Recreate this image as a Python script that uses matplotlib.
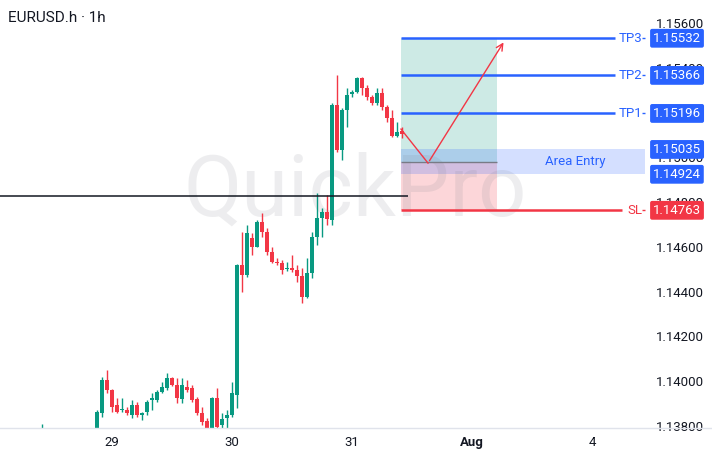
import matplotlib
matplotlib.use("Agg")
import matplotlib.pyplot as plt
import matplotlib.transforms as mtransforms
from matplotlib.lines import Line2D

plt.rcParams["font.family"] = ["Roboto", "DejaVu Sans"]

C_UP = "#089981"
C_DOWN = "#F23645"
C_BLUE = "#2962FF"
C_TEXT = "#131722"

# hourly bars, hour 0 = 29 Jul 00:00 (weekend gap skipped on the axis)
hours = [-14] + list(range(-3, 59))
opens = [1.13772,
         1.13758, 1.13857, 1.14004, 1.13960, 1.13892, 1.13870, 1.13870, 1.13848, 1.13892, 1.13848,
         1.13861, 1.13915, 1.13915, 1.13951, 1.13968, 1.14013, 1.13982, 1.13919, 1.13973, 1.13968,
         1.13919, 1.13857, 1.13821, 1.13790, 1.13924, 1.13803, 1.13834, 1.13848, 1.13937, 1.14518,
         1.14474, 1.14639, 1.14599, 1.14710, 1.14666, 1.14576, 1.14532, 1.14527, 1.14500, 1.14505,
         1.14496, 1.14469, 1.14375, 1.14483, 1.14643, 1.14728, 1.14755, 1.14719, 1.15233, 1.15032,
         1.15211, 1.15283, 1.15292, 1.15354, 1.15309, 1.15269, 1.15242, 1.15287, 1.15225, 1.15175,
         1.15095, 1.15117]
highs = [1.13808,
         1.13870, 1.14018, 1.14049, 1.13964, 1.13924, 1.13924, 1.13884, 1.13915, 1.13906, 1.13861,
         1.13915, 1.13946, 1.13960, 1.13995, 1.14036, 1.14018, 1.14013, 1.14013, 1.14004, 1.13982,
         1.13928, 1.13884, 1.13834, 1.13928, 1.13968, 1.13857, 1.13870, 1.13995, 1.14522, 1.14666,
         1.14697, 1.14661, 1.14719, 1.14751, 1.14684, 1.14599, 1.14550, 1.14541, 1.14532, 1.14563,
         1.14518, 1.14505, 1.14550, 1.14666, 1.14840, 1.14773, 1.14831, 1.15242, 1.15368, 1.15220,
         1.15309, 1.15301, 1.15359, 1.15359, 1.15323, 1.15278, 1.15309, 1.15309, 1.15233, 1.15211,
         1.15157, 1.15135]
lows = [1.13735,
        1.13735, 1.13839, 1.13946, 1.13861, 1.13857, 1.13861, 1.13848, 1.13834, 1.13839, 1.13825,
        1.13848, 1.13870, 1.13906, 1.13946, 1.13960, 1.13977, 1.13901, 1.13901, 1.13951, 1.13906,
        1.13848, 1.13803, 1.13772, 1.13781, 1.13772, 1.13781, 1.13790, 1.13839, 1.13879, 1.14398,
        1.14465, 1.14563, 1.14599, 1.14643, 1.14563, 1.14527, 1.14518, 1.14478, 1.14491, 1.14487,
        1.14442, 1.14348, 1.14371, 1.14460, 1.14608, 1.14643, 1.14697, 1.14697, 1.15023, 1.14988,
        1.15135, 1.15269, 1.15287, 1.15278, 1.15256, 1.15233, 1.15233, 1.15211, 1.15157, 1.15091,
        1.15091, 1.15086]
closes = [1.13781,
          1.13861, 1.14004, 1.13960, 1.13884, 1.13861, 1.13875, 1.13857, 1.13892, 1.13848, 1.13857,
          1.13906, 1.13924, 1.13951, 1.13973, 1.14013, 1.13982, 1.13924, 1.13982, 1.13960, 1.13915,
          1.13857, 1.13817, 1.13790, 1.13924, 1.13794, 1.13830, 1.13848, 1.13946, 1.14518, 1.14474,
          1.14661, 1.14599, 1.14710, 1.14666, 1.14576, 1.14532, 1.14527, 1.14496, 1.14505, 1.14496,
          1.14469, 1.14375, 1.14483, 1.14643, 1.14728, 1.14755, 1.14724, 1.15233, 1.15032, 1.15211,
          1.15278, 1.15292, 1.15354, 1.15309, 1.15269, 1.15242, 1.15287, 1.15225, 1.15175, 1.15095,
          1.15113, 1.15104]

# trade setup
tp_names = ["TP3", "TP2", "TP1"]
tp_prices = [1.15532, 1.15366, 1.15196]
sl_price = 1.14763
entry_price = 1.14980
area_top, area_bottom = 1.15035, 1.14924
ref_level = 1.14827

x_ticks = [0, 24, 48, 72, 96]
x_labels = ["29", "30", "31", "Aug", "4"]
y_ticks = [1.138, 1.140, 1.142, 1.144, 1.146, 1.148, 1.150, 1.152, 1.154, 1.156]

fig = plt.figure(figsize=(7.12, 4.55), dpi=100)
ax = fig.add_axes([0, 27 / 455, 645 / 712, 428 / 455])
ax.set_xlim(-22.4, 106.6)
ax.set_ylim(1.13790, 1.15703)

# candles
for h, o, hi, lo, c in zip(hours, opens, highs, lows, closes):
    col = C_UP if c >= o else C_DOWN
    ax.vlines(h, lo, hi, color=col, lw=1, zorder=3)
    body = max(abs(c - o), 0.00003)
    ax.bar(h, body, bottom=min(o, c), width=0.72, color=col, lw=0, zorder=3)

ax.hlines(ref_level, -22.4, 59.2, color=C_TEXT, lw=1.1, zorder=4)

# long position box
x0, x1 = 57.8, 77.0
ax.fill_between([x0, x1], entry_price, tp_prices[0], color=C_UP, alpha=0.2, lw=0, zorder=1)
ax.fill_between([x0, x1], sl_price, entry_price, color=C_DOWN, alpha=0.2, lw=0, zorder=1)
ax.hlines(entry_price, x0, x1, color="#787b86", lw=1, zorder=2)
ax.fill_between([x0, 106.6], area_bottom, area_top, color=C_BLUE, alpha=0.2, lw=0, zorder=1)
ax.text(92.6, (area_top + area_bottom) / 2, "Area Entry", color=C_BLUE, fontsize=9.5,
        ha="center", va="center", zorder=5)

for name, p in zip(tp_names, tp_prices):
    ax.hlines(p, x0, 100.6, color=C_BLUE, lw=1.8, zorder=4)
    ax.text(101.3, p, name, color=C_BLUE, fontsize=9.5, ha="left", va="center", zorder=5)
    ax.hlines(p, 106.0, 106.6, color=C_BLUE, lw=1, zorder=5, clip_on=False)
ax.hlines(sl_price, x0, 102.0, color=C_DOWN, lw=1.8, zorder=4)
ax.text(103.1, sl_price, "SL", color=C_DOWN, fontsize=9.5, ha="left", va="center", zorder=5)
ax.hlines(sl_price, 106.0, 106.6, color=C_DOWN, lw=1, zorder=5, clip_on=False)

# projected path
ax.plot([57.8, 63.2], [1.15126, 1.14974], color=C_DOWN, lw=1, zorder=5)
ax.annotate("", xy=(78.6, 1.15524), xytext=(63.2, 1.14974),
            arrowprops=dict(arrowstyle="->", color=C_DOWN, lw=1, mutation_scale=12), zorder=5)

# watermark (behind candles, above the position fills)
ax.text(48.6, 1.14845, "QuickPro", fontsize=61, color="#787b86", alpha=0.13,
        ha="center", va="center", zorder=1.5)

# axes styling
ax.yaxis.tick_right()
ax.set_yticks(y_ticks)
ax.set_yticklabels([f"{v:.5f}" for v in y_ticks])
ax.set_xticks(x_ticks)
ax.set_xticklabels(x_labels)
ax.get_xticklabels()[3].set_fontweight("bold")
ax.tick_params(axis="y", length=0, pad=8, labelsize=9.5, labelcolor=C_TEXT)
ax.tick_params(axis="x", length=0, pad=5.5, labelsize=9.5, labelcolor=C_TEXT)
for s in ax.spines.values():
    s.set_visible(False)

# price tags on the scale
trans = mtransforms.blended_transform_factory(ax.transAxes, ax.transData)
tags = list(zip(tp_prices, [C_BLUE] * 3)) + [(area_top, C_BLUE), (area_bottom, C_BLUE), (sl_price, C_DOWN)]
for p, col in tags:
    ax.text(1.0 + 8 / 645, p, f"{p:.5f}", transform=trans, color="white", fontsize=9.5,
            ha="left", va="center", zorder=6, clip_on=False,
            bbox=dict(boxstyle="round,pad=0.22,rounding_size=0.15", fc=col, ec="none"))

fig.add_artist(Line2D([0, 1], [27.5 / 455, 27.5 / 455], color="#e0e3eb", lw=1))
fig.text(8 / 712, 1 - 18 / 455, "EURUSD.h · 1h", fontsize=11, color=C_TEXT, ha="left", va="center")

fig.savefig("out.png", dpi=100, facecolor="white")
